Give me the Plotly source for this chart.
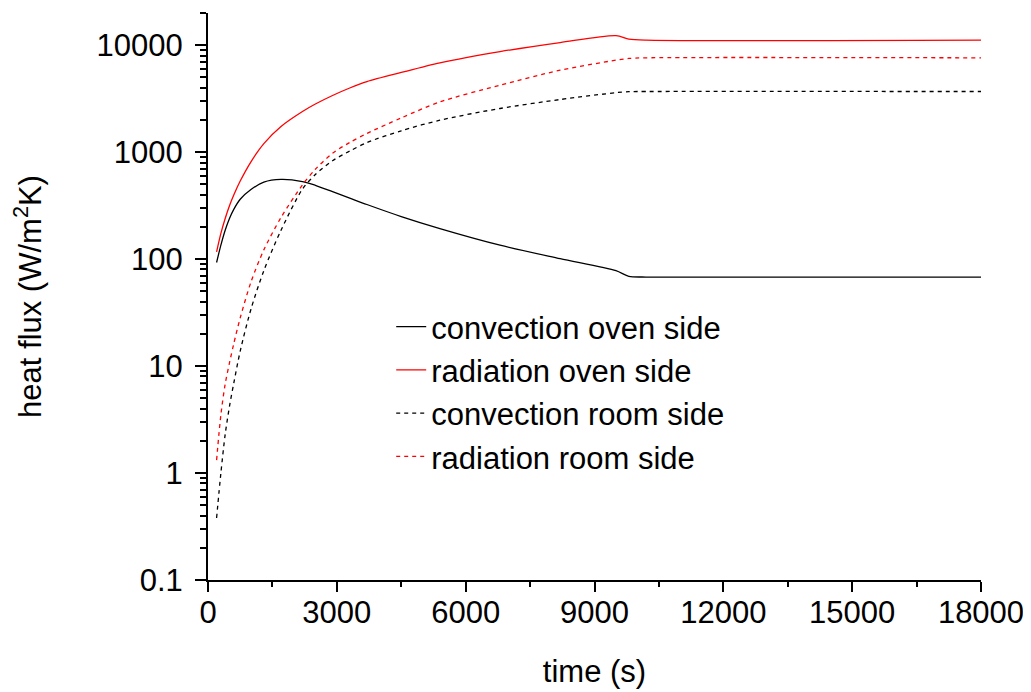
import math
import plotly.graph_objects as go

# time grid (s)
time_s = [200, 300, 400, 500, 600, 750, 1000, 1300, 1700, 2200, 2500, 2900, 3300,
          3700, 4500, 5400, 6800, 8200, 9500, 9800, 10200, 18000]

conv_oven = [93, 135, 186, 240, 292, 363, 447, 525, 556, 531, 490, 427, 372,
             324, 250, 193, 135, 101, 78, 69, 68, 68]
rad_oven = [117, 174, 240, 316, 398, 537, 813, 1202, 1738, 2399, 2818, 3388, 3981,
            4571, 5559, 6839, 8710, 10590, 12300, 11400, 11140, 11140]
conv_room = [0.38, 1.0, 2.3, 4.2, 6.9, 13.8, 34, 78, 186, 452, 617, 832, 1023,
             1230, 1585, 1990, 2560, 3105, 3600, 3680, 3690, 3690]
rad_room = [1.32, 3.5, 6.8, 10.7, 16.2, 28.2, 61, 122, 245, 495, 692, 977, 1230,
            1496, 2089, 2951, 4227, 5834, 7244, 7516, 7621, 7621]

series_names = ["convection oven side", "radiation oven side",
                "convection room side", "radiation room side"]

x_ticks = [0, 3000, 6000, 9000, 12000, 15000, 18000]
x_ticktext = ["0", "3000", "6000", "9000", "12000", "15000", "18000"]
y_ticks = [0.1, 1, 10, 100, 1000, 10000]
y_ticktext = ["0.1", "1", "10", "100", "1000", "10000"]

FONT = "Liberation Sans, Arial, sans-serif"
FS = 31

fig = go.Figure()
styles = [("black", "solid"), ("red", "solid"), ("black", "4px,4px"), ("red", "4px,4px")]
for name, vals, (col, dash) in zip(series_names, [conv_oven, rad_oven, conv_room, rad_room], styles):
    fig.add_trace(go.Scatter(x=time_s, y=vals, mode="lines", name=name,
                             line=dict(color=col, width=1.3, dash=dash, shape="spline", smoothing=0.8)))

minor_y = [k * 10 ** e for e in range(-1, 5) for k in range(2, 10) if k * 10 ** e <= 20000]

fig.update_layout(
    width=1023, height=684, autosize=False,
    margin=dict(l=200, r=50, t=5, b=112),
    paper_bgcolor="white", plot_bgcolor="white",
    font=dict(family=FONT, size=FS, color="black"),
    showlegend=True,
    legend=dict(x=0.237, y=0.494, xanchor="left", yanchor="top",
                bgcolor="rgba(0,0,0,0)", borderwidth=0,
                font=dict(family=FONT, size=FS), tracegroupgap=0),
    xaxis=dict(range=[0, 18000], tickmode="array", tickvals=x_ticks, ticktext=x_ticktext,
               ticks="outside", ticklen=10, tickwidth=2, tickcolor="black",
               showline=True, linewidth=2, linecolor="black",
               showgrid=False, zeroline=False,
               tickfont=dict(family=FONT, size=FS), ticklabelstandoff=-6,
               minor=dict(ticks="outside", ticklen=5, tickwidth=1.5, tickcolor="black",
                          dtick=1500, tick0=0, showgrid=False),
               title=dict(text="time (s)", font=dict(family=FONT, size=FS), standoff=31)),
    yaxis=dict(type="log", range=[-1, math.log10(20000)], tickmode="array",
               tickvals=y_ticks, ticktext=y_ticktext,
               ticks="outside", ticklen=11, tickwidth=2, tickcolor="black",
               showline=True, linewidth=2, linecolor="black",
               showgrid=False, zeroline=False,
               tickfont=dict(family=FONT, size=FS), ticklabelstandoff=6,
               minor=dict(ticks="outside", ticklen=6, tickwidth=1.5, tickcolor="black",
                          tickmode="array", tickvals=minor_y, showgrid=False),
               title=dict(text="heat flux (W/m<sup>2</sup>K)", font=dict(family=FONT, size=FS), standoff=49)),
)

fig.write_html("out.html")
